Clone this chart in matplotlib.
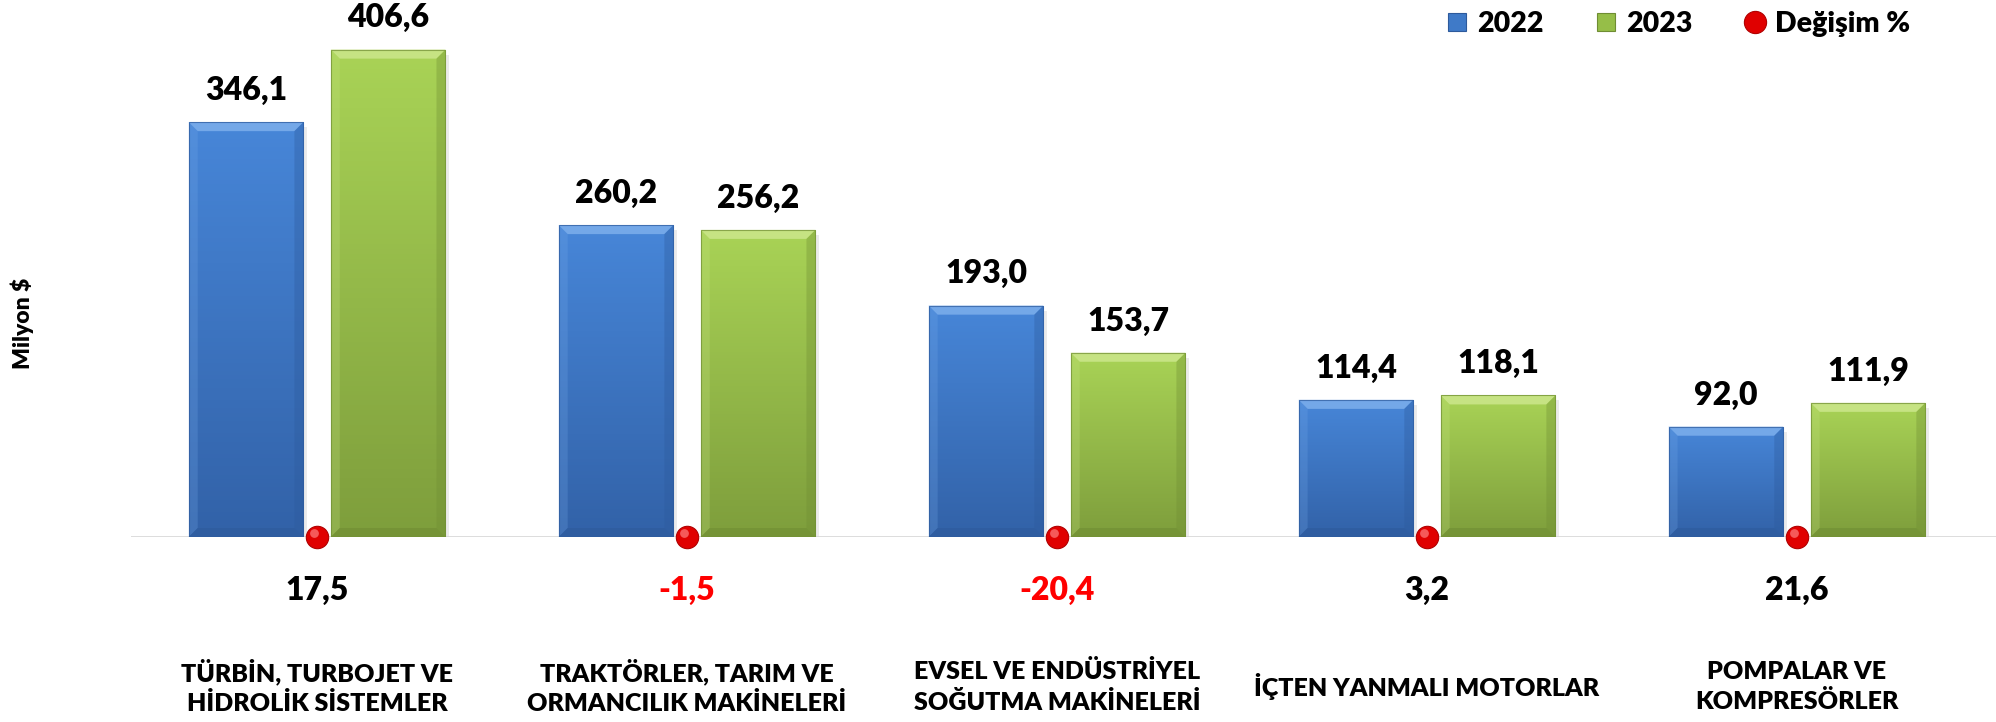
import numpy as np
import matplotlib
matplotlib.use("Agg")
import matplotlib.pyplot as plt
import matplotlib.transforms as mtransforms
from matplotlib.patches import Polygon, Rectangle
from matplotlib.lines import Line2D
from matplotlib.colors import LinearSegmentedColormap

plt.rcParams['font.family'] = ['Lato', 'DejaVu Sans']
WT = 'heavy'

categories = ["TÜRBİN, TURBOJET VE\nHİDROLİK SİSTEMLER",
              "TRAKTÖRLER, TARIM VE\nORMANCILIK MAKİNELERİ",
              "EVSEL VE ENDÜSTRİYEL\nSOĞUTMA MAKİNELERİ",
              "İÇTEN YANMALI MOTORLAR",
              "POMPALAR VE\nKOMPRESÖRLER"]
v2022 = [346.1, 260.2, 193.0, 114.4, 92.0]
v2023 = [406.6, 256.2, 153.7, 118.1, 111.9]
change = [17.5, -1.5, -20.4, 3.2, 21.6]

W, H = 1996, 722
fig = plt.figure(figsize=(W / 100, H / 100), dpi=100)
ax = fig.add_axes([131 / W, 185 / H, 1 - 131 / W, 537 / H])
ax.set_xlim(-0.503, 4.538)
ax.set_ylim(0, 448)
ax.axis('off')

# pixel sizes in data units
px_x = (4.538 + 0.503) / (W - 131)
px_y = 448 / 537

x = np.arange(len(categories))
width = 0.31
off = 0.192

styles = {
    '2022': dict(top='#4786D8', bot='#3262A8', light='#74A8E8', dark='#2D5A9C'),
    '2023': dict(top='#A9D356', bot='#7E9E3C', light='#C6E383', dark='#6F8D33'),
}


def draw_bars(xs, vals, st):
    bars = ax.bar(xs, vals, width, color=st['top'], zorder=2, linewidth=0)
    cmap = LinearSegmentedColormap.from_list('g', [st['bot'], st['top']])
    for b in bars:
        x0, y0 = b.get_x(), b.get_y()
        w, h = b.get_width(), b.get_height()
        # soft shadow
        ax.add_patch(Rectangle((x0 + 2 * px_x, y0 - 5 * px_y), w + 2 * px_x, h,
                               color='#000000', alpha=0.08, zorder=1, lw=0))
        grad = np.linspace(0, 1, 100).reshape(-1, 1)
        im = ax.imshow(grad, extent=(x0, x0 + w, y0, y0 + h), origin='lower',
                       cmap=cmap, aspect='auto', zorder=2.1)
        im.set_clip_path(b)
        bx, by = 9 * px_x, 9 * px_y
        x1, y1 = x0 + w, y0 + h
        ax.add_patch(Polygon([(x0, y1), (x1, y1), (x1 - bx, y1 - by), (x0 + bx, y1 - by)],
                             color=st['light'], lw=0, zorder=2.2))
        ax.add_patch(Polygon([(x0, y1), (x0 + bx, y1 - by), (x0 + bx, y0 + by), (x0, y0)],
                             color=st['light'], alpha=0.25, lw=0, zorder=2.2))
        ax.add_patch(Polygon([(x1, y1), (x1 - bx, y1 - by), (x1 - bx, y0 + by), (x1, y0)],
                             color=st['dark'], alpha=0.35, lw=0, zorder=2.2))
        ax.add_patch(Polygon([(x0, y0), (x1, y0), (x1 - bx, y0 + by), (x0 + bx, y0 + by)],
                             color=st['dark'], alpha=0.6, lw=0, zorder=2.2))
        ax.add_patch(Rectangle((x0, y0), w, h, fill=False, ec=st['dark'],
                               lw=0.8, alpha=0.7, zorder=2.3))
    return bars


b1 = draw_bars(x - off, v2022, styles['2022'])
b2 = draw_bars(x + off, v2023, styles['2023'])

for xs, vals in ((x - off, v2022), (x + off, v2023)):
    for xi, v in zip(xs, vals):
        ax.annotate(f"{v:.1f}".replace('.', ','), (xi, v), xytext=(0, 16),
                    textcoords='offset points', ha='center', va='baseline',
                    fontsize=23, fontweight=WT, color='black')

ax.axhline(0, color='#D9D9D9', lw=2, zorder=1.5)

# change markers on the baseline
ax.scatter(x, np.zeros(len(x)), s=260, color='#E00000', edgecolors='#B00000',
           linewidths=0.8, zorder=5, clip_on=False)
hl = mtransforms.offset_copy(ax.transData, fig=fig, x=-2, y=3, units='points')
ax.scatter(x, np.zeros(len(x)), s=40, color='#FF8080', alpha=0.7, zorder=6,
           transform=hl, clip_on=False, linewidths=0)

trans = mtransforms.blended_transform_factory(ax.transData, fig.transFigure)
for xi, c in zip(x, change):
    ax.text(xi, 1 - 590 / H, f"{c:.1f}".replace('.', ','), transform=trans,
            ha='center', va='center', fontsize=23, fontweight=WT,
            color='#FF0000' if c < 0 else 'black')
for xi, cat in zip(x, categories):
    ax.text(xi, 1 - 687 / H, cat, transform=trans, ha='center', va='center',
            fontsize=18, fontweight=WT, linespacing=1.38, color='black')

fig.text(22 / W, 1 - 323 / H, 'Milyon $', rotation=90, ha='center', va='center',
         fontsize=16.5, fontweight=WT)

handles = [Line2D([], [], marker='s', ls='', markersize=13.5, color='#3F7AC8',
                  mec='#2D5A9C', mew=0.8),
           Line2D([], [], marker='s', ls='', markersize=13.5, color='#96BE48',
                  mec='#6F8D33', mew=0.8),
           Line2D([], [], marker='o', ls='', markersize=16, color='#E00000',
                  mec='#B00000', mew=0.8)]
fig.legend(handles, ['2022', '2023', 'Değişim %'], loc='center right',
           bbox_to_anchor=(1910 / W, 1 - 24 / H), ncol=3, frameon=False,
           handlelength=0.8, handletextpad=0.3, columnspacing=1.8,
           borderaxespad=0, borderpad=0,
           prop={'weight': WT, 'size': 20.5})

fig.savefig('out.png', dpi=100)
